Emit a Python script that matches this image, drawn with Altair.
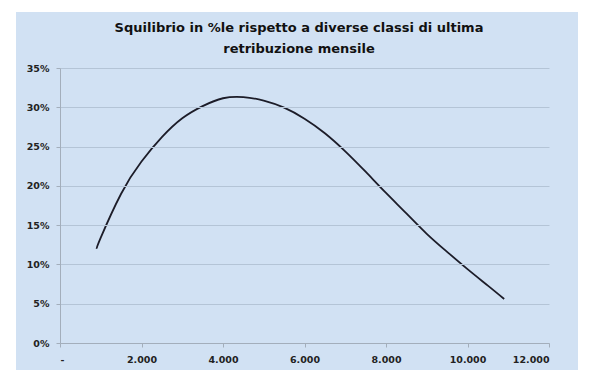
import altair as alt
import pandas as pd

# Data
retribuzione = [900, 1000, 1500, 2000, 2500, 3000, 3500, 4000, 4500, 5000, 5500,
                6000, 6500, 7000, 7500, 8000, 8500, 9000, 9500, 10000, 10500, 10900]
squilibrio = [12.0, 13.4, 19.0, 23.1, 26.2, 28.6, 30.15, 31.15, 31.3, 30.85, 29.95,
              28.55, 26.7, 24.4, 21.8, 19.1, 16.5, 13.9, 11.6, 9.4, 7.3, 5.6]
x_ticks = [0, 2000, 4000, 6000, 8000, 10000, 12000]
y_ticks = [0, 5, 10, 15, 20, 25, 30, 35]
title_lines = ["Squilibrio in %le rispetto a diverse classi di ultima", "retribuzione mensile"]

df = pd.DataFrame({"x": retribuzione, "y": [v / 100 for v in squilibrio]})

BG = "#d1e1f3"
FONT = "DejaVu Sans"

W, H = 489, 275
PAD_L, PAD_T = 60, 68

one = pd.DataFrame({"a": [0]})

background = alt.Chart(one).mark_rect(color=BG).encode(
    x=alt.value(16 - PAD_L), x2=alt.value(578 - PAD_L),
    y=alt.value(12 - PAD_T), y2=alt.value(370 - PAD_T),
)

title = alt.Chart(one).mark_text(
    font=FONT, fontSize=13, fontWeight="bold", color="#111111",
    lineHeight=21, align="center", baseline="middle",
).encode(
    x=alt.value(299 - PAD_L), y=alt.value(28 - PAD_T),
    text=alt.value(title_lines),
)

line = alt.Chart(df).mark_line(color="#1c1c28", strokeWidth=1.8, interpolate="natural").encode(
    x=alt.X("x:Q",
            scale=alt.Scale(domain=[0, 12000], nice=False),
            axis=alt.Axis(values=x_ticks, title=None, grid=False,
                          labelExpr="datum.value == 0 ? '-' : replace(format(datum.value, ','), ',', '.')",
                          zindex=1)),
    y=alt.Y("y:Q",
            scale=alt.Scale(domain=[0, 0.35], nice=False),
            axis=alt.Axis(values=[v / 100 for v in y_ticks], format=".0%", title=None,
                          grid=True, zindex=1)),
)

chart = alt.layer(background, title, line).properties(
    width=W, height=H,
    autosize=alt.AutoSizeParams(type="none"),
    padding={"left": PAD_L, "top": PAD_T, "right": 595 - PAD_L - W, "bottom": 382 - PAD_T - H},
    background="white",
).configure_view(stroke=None).configure_axis(
    labelFont=FONT, labelFontSize=9.5, labelFontWeight="bold", labelColor="#222222",
    domainColor="#a3aebb", tickColor="#a3aebb", tickSize=4, gridColor="#b4c4d6",
    labelPadding=7,
)

chart.save("out.html", embed_options={"renderer": "svg", "actions": False})
